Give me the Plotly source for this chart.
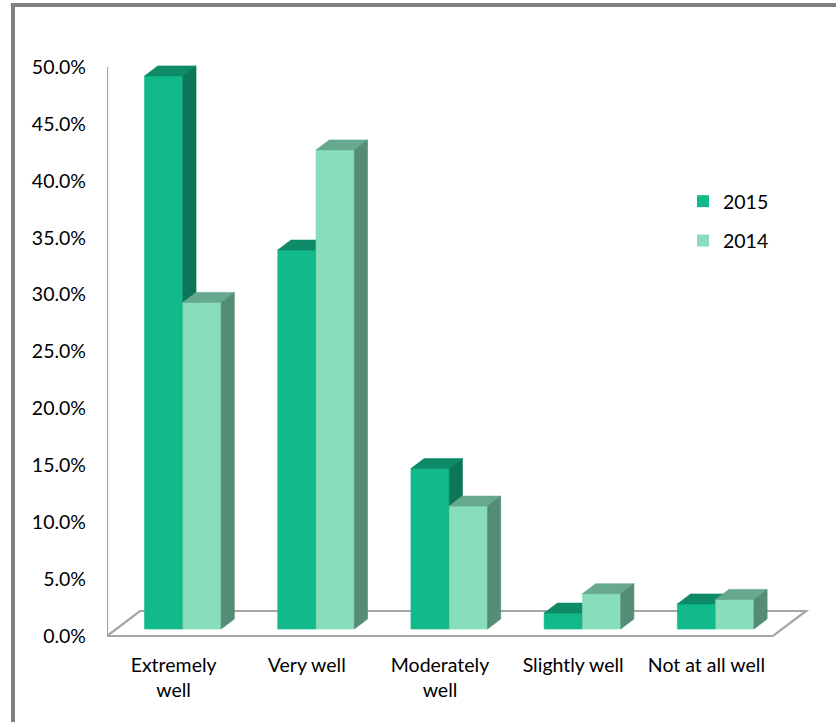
import plotly.graph_objects as go

# --- data -------------------------------------------------------------------
categories = ["Extremely<br>well", "Very well", "Moderately<br>well", "Slightly well", "Not at all well"]
series_names = ["2015", "2014"]
values_2015 = [48.6, 33.3, 14.1, 1.4, 2.2]
values_2014 = [28.7, 42.1, 10.8, 3.1, 2.6]
y_ticks = [0, 5, 10, 15, 20, 25, 30, 35, 40, 45, 50]

# --- styling ----------------------------------------------------------------
FRONT = ["#12B98A", "#88DDBA"]
TOP = ["#0E8A66", "#66A98E"]
SIDE = ["#0C7659", "#558C76"]
AXIS_GRAY = "#A6A6A6"
FRAME_GRAY = "#808080"
FONT = "Lato"
FONT_SIZE = 19.5

W, H = 836, 722
M = dict(l=107, r=16, t=44, b=82)
PLOT_W = W - M["l"] - M["r"]
PLOT_H = H - M["t"] - M["b"]
PX_PER_CAT = 133.2
PX_PER_PCT = 11.38
ZERO_PX = 636                 # vertical pixel of the 0% baseline on the front plane
X_RANGE = [-0.5, -0.5 + PLOT_W / PX_PER_CAT]
Y_BOTTOM = -((H - M["b"]) - ZERO_PX) / PX_PER_PCT
Y_RANGE = [Y_BOTTOM, Y_BOTTOM + PLOT_H / PX_PER_PCT]

# oblique 3-D projection: full floor depth, in axis units
DX = 33 / PX_PER_CAT
DY = 25 / PX_PER_PCT
F0, F1 = 0.28, 0.68          # front / back of the columns as fraction of depth
BAR_W = 0.2875               # column width in category units


def px_to_paper(px, py):
    return (px - M["l"]) / PLOT_W, (H - M["b"] - py) / PLOT_H


def faces(vals, s):
    front_x, front_y, top_x, top_y, side_x, side_y = [], [], [], [], [], []
    ddx, ddy = (F1 - F0) * DX, (F1 - F0) * DY
    for i, v in enumerate(vals):
        x0 = i + F0 * DX + (s - 1) * BAR_W
        x1 = x0 + BAR_W
        y0 = F0 * DY
        y1 = y0 + v
        front_x += [x0, x1, x1, x0, x0, None]
        front_y += [y0, y0, y1, y1, y0, None]
        top_x += [x0, x1, x1 + ddx, x0 + ddx, x0, None]
        top_y += [y1, y1, y1 + ddy, y1 + ddy, y1, None]
        side_x += [x1, x1 + ddx, x1 + ddx, x1, x1, None]
        side_y += [y0, y0 + ddy, y1 + ddy, y1, y0, None]
    return (front_x, front_y), (top_x, top_y), (side_x, side_y)


fig = go.Figure()

for s, (name, vals) in enumerate(zip(series_names, [values_2015, values_2014])):
    (fx, fy), (tx, ty), (sx, sy) = faces(vals, s)
    for (xs, ys), col in [((fx, fy), FRONT[s]), ((tx, ty), TOP[s]), ((sx, sy), SIDE[s])]:
        fig.add_trace(go.Scatter(
            x=xs, y=ys, mode="lines", fill="toself", fillcolor=col,
            line=dict(width=0.6, color=col), showlegend=False, hoverinfo="skip",
        ))
    # legend key
    fig.add_trace(go.Scatter(
        x=[None], y=[None], mode="markers", name=name, legendgroup=name,
        marker=dict(symbol="square", size=12, color=FRONT[s]),
    ))

shapes = []
# vertical value axis
shapes.append(dict(type="line", xref="x", yref="y", x0=-0.5, x1=-0.5, y0=0, y1=50,
                   line=dict(color=AXIS_GRAY, width=2.2), layer="below"))
# floor outline
n = len(categories)
floor = f"M {-0.5},0 L {n - 0.5},0 L {n - 0.5 + DX},{DY} L {-0.5 + DX},{DY} Z"
shapes.append(dict(type="path", xref="x", yref="y", path=floor,
                   line=dict(color=AXIS_GRAY, width=2.2), layer="below"))
# chart frame
fx0, fy0 = px_to_paper(13, 5)
fx1, _ = px_to_paper(845, 5)
_, fy1 = px_to_paper(13, 735)
shapes.append(dict(type="line", xref="paper", yref="paper", x0=fx0, x1=fx0, y0=fy0, y1=fy1,
                   line=dict(color=FRAME_GRAY, width=4)))
shapes.append(dict(type="line", xref="paper", yref="paper", x0=fx0 - 0.003, x1=fx1, y0=fy0, y1=fy0,
                   line=dict(color=FRAME_GRAY, width=4)))

lx, ly = px_to_paper(683, 182)

fig.update_layout(
    width=W, height=H, margin=M,
    paper_bgcolor="white", plot_bgcolor="white",
    font=dict(family=FONT, size=FONT_SIZE, color="#000000"),
    shapes=shapes,
    showlegend=True,
    legend=dict(x=lx, y=ly, xanchor="left", yanchor="top", tracegroupgap=11,
                font=dict(family=FONT, size=FONT_SIZE), bgcolor="rgba(0,0,0,0)"),
    xaxis=dict(range=X_RANGE, tickvals=list(range(n)), ticktext=categories,
               showgrid=False, zeroline=False, showline=False, ticks="",
               ticklabelstandoff=11, fixedrange=True, automargin=False),
    yaxis=dict(range=Y_RANGE, tickvals=y_ticks, ticktext=[f"{v:.1f}%" for v in y_ticks],
               showgrid=False, zeroline=False, showline=False, ticks="",
               ticklabelstandoff=20, fixedrange=True, automargin=False),
)

fig.write_html("out.html")
